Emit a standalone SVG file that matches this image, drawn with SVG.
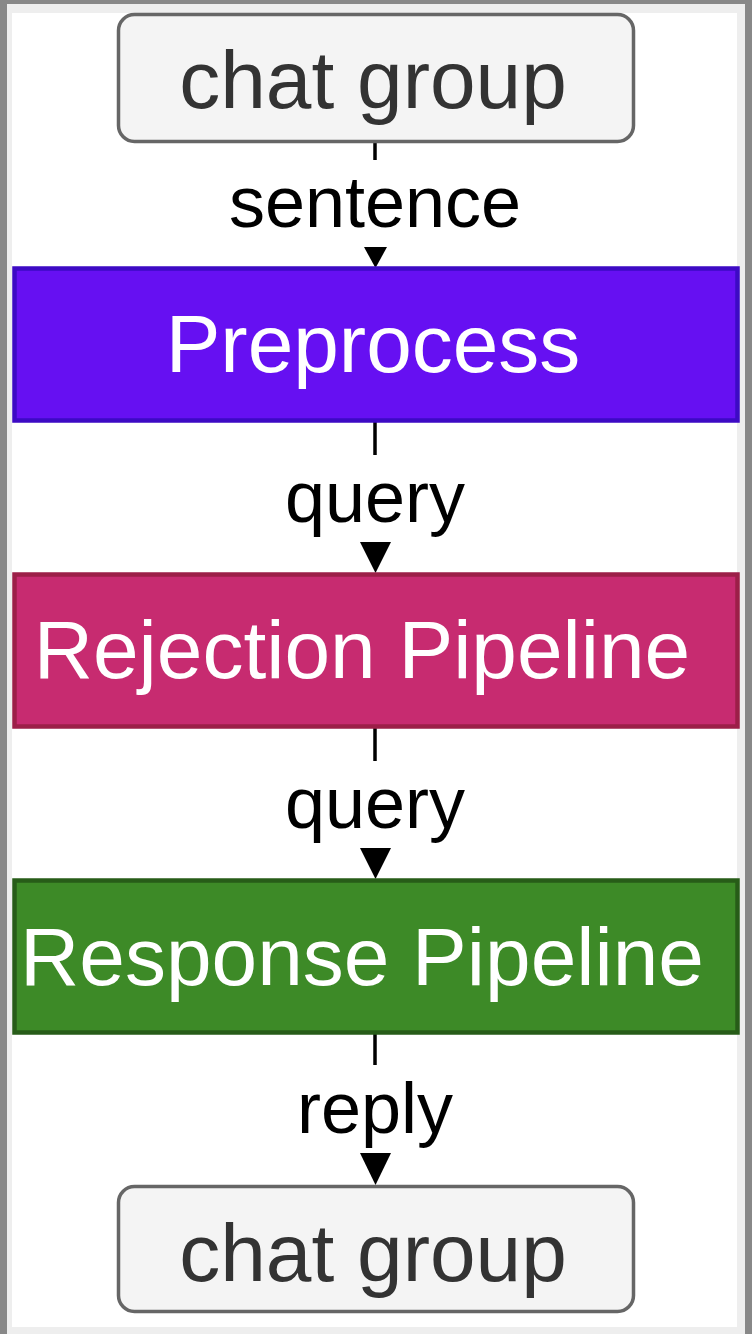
<svg xmlns="http://www.w3.org/2000/svg" width="752" height="1334" viewBox="0 0 752 1334">
  <defs>
    <style>
      .lbl { font-family: "Liberation Sans", Arial, sans-serif; font-size: 72px; fill: #000; text-anchor: middle; }
      .ntxt { font-family: "Liberation Sans", Arial, sans-serif; font-size: 82px; text-anchor: middle; }
      .chat rect { fill: #f4f4f4; stroke: #666666; stroke-width: 3.5; }
      .chat text { fill: #333333; }
      .proc text { fill: #ffffff; }
      .edge { stroke: #000; stroke-width: 3.5; fill: none; }
      .head { fill: #000; }
    </style>
  </defs>
  <rect x="0" y="0" width="752" height="1334" fill="#888888"/>
  <rect x="7" y="4" width="738" height="1330" fill="#eeeeee"/>
  <rect x="12" y="13" width="725" height="1314" fill="#ffffff"/>

  <g id="connectors">
    <line class="edge" x1="375" y1="143" x2="375" y2="160"/>
    <text class="lbl" x="375" y="227">sentence</text>
    <polygon class="head" points="364,247 387,247 375.5,268"/>

    <line class="edge" x1="375" y1="422" x2="375" y2="455"/>
    <text class="lbl" x="375" y="522">query</text>
    <polygon class="head" points="360,542 391,542 375.5,573"/>

    <line class="edge" x1="375" y1="728" x2="375" y2="761"/>
    <text class="lbl" x="375" y="828">query</text>
    <polygon class="head" points="360,848 391,848 375.5,879"/>

    <line class="edge" x1="375" y1="1034" x2="375" y2="1065"/>
    <text class="lbl" x="375" y="1133">reply</text>
    <polygon class="head" points="360,1153 391,1153 375.5,1185"/>
  </g>

  <g id="chat-top" class="chat">
    <rect x="118.5" y="14.5" width="515" height="127" rx="16" ry="16"/>
    <text class="ntxt" x="373" y="108">chat group</text>
  </g>

  <g id="preprocess" class="proc">
    <rect x="14.5" y="268.5" width="723" height="152" fill="#6610f2" stroke="#3d0ac4" stroke-width="4.5"/>
    <text class="ntxt" x="373" y="372">Preprocess</text>
  </g>

  <g id="rejection" class="proc">
    <rect x="14.5" y="574.5" width="723" height="152" fill="#c72b70" stroke="#9c1f48" stroke-width="4.5"/>
    <text class="ntxt" x="362" y="678">Rejection Pipeline</text>
  </g>

  <g id="response" class="proc">
    <rect x="14.5" y="880.5" width="723" height="152" fill="#3d8a27" stroke="#275c18" stroke-width="4.5"/>
    <text class="ntxt" x="362" y="985">Response Pipeline</text>
  </g>

  <g id="chat-bottom" class="chat">
    <rect x="118.5" y="1186.5" width="515" height="125" rx="16" ry="16"/>
    <text class="ntxt" x="373" y="1281">chat group</text>
  </g>
</svg>
